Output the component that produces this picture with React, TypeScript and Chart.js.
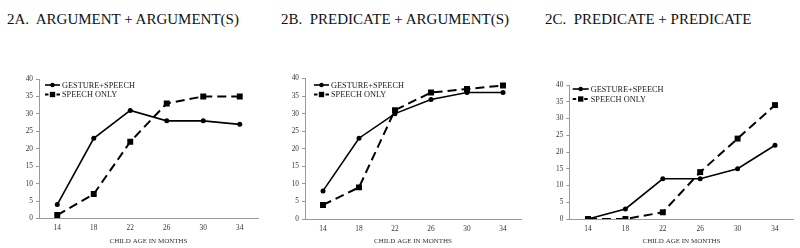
import React, { useEffect, useRef } from 'react';
import { Chart, registerables } from 'chart.js';
Chart.register(...registerables);

const ageLabels = ['14', '18', '22', '26', '30', '34'];
const seriesNames = ['GESTURE+SPEECH', 'SPEECH ONLY'];
const argArgGesture = [4, 23, 31, 28, 28, 27];
const argArgSpeech = [1, 7, 22, 33, 35, 35];
const predArgGesture = [8, 23, 30, 34, 36, 36];
const predArgSpeech = [4, 9, 31, 36, 37, 38];
const predPredGesture = [0, 3, 12, 12, 15, 22];
const predPredSpeech = [0, 0, 2, 14, 24, 34];
const panelTitles = ['2A.  ARGUMENT + ARGUMENT(S)', '2B.  PREDICATE + ARGUMENT(S)', '2C.  PREDICATE + PREDICATE'];
const xAxisTitle = 'CHILD AGE IN MONTHS';
const yMin = 0;
const yMax = 40;
const yStep = 5;

const SERIF = '"Liberation Serif", "Times New Roman", serif';

const lineLegend = {
  id: 'lineLegend',
  afterDraw(chart: any, _args: any, opts: any) {
    const { ctx, chartArea } = chart;
    const x0 = chartArea.left + opts.dx;
    chart.data.datasets.forEach((ds: any, i: number) => {
      const y = chartArea.top + opts.dy + i * opts.rowGap;
      ctx.save();
      ctx.strokeStyle = ds.borderColor;
      ctx.lineWidth = ds.borderWidth;
      ctx.setLineDash(ds.legendDash || []);
      ctx.beginPath();
      ctx.moveTo(x0, y);
      ctx.lineTo(x0 + opts.lineLen, y);
      ctx.stroke();
      ctx.setLineDash([]);
      const mx = x0 + opts.lineLen / 2;
      ctx.fillStyle = ds.pointBackgroundColor;
      if (ds.pointStyle === 'rect') {
        const s = ds.pointRadius * Math.SQRT1_2 * 0.9;
        ctx.fillRect(mx - s, y - s, 2 * s, 2 * s);
      } else {
        ctx.beginPath();
        ctx.arc(mx, y, ds.pointRadius * 0.9, 0, Math.PI * 2);
        ctx.fill();
      }
      ctx.fillStyle = opts.color;
      ctx.font = opts.font;
      ctx.textBaseline = 'middle';
      ctx.textAlign = 'left';
      ctx.fillText(ds.label, x0 + opts.lineLen + opts.textGap, y + 0.5);
      ctx.restore();
    });
  },
};

type PanelProps = {
  left: number;
  width: number;
  title: string;
  titleLeft: number;
  gesture: number[];
  speech: number[];
  padTop: number;
  padRight: number;
  yWidth: number;
  xHeight: number;
  legend: { dx: number; dy: number; rowGap: number; lineLen: number; textGap: number };
};

function Panel(p: PanelProps) {
  const ref = useRef<HTMLCanvasElement | null>(null);
  useEffect(() => {
    if (!ref.current) return;
    const chart = new Chart(ref.current, {
      type: 'line',
      data: {
        labels: ageLabels,
        datasets: [
          {
            label: seriesNames[0],
            data: p.gesture,
            borderColor: '#000',
            backgroundColor: '#000',
            borderWidth: 1.6,
            pointStyle: 'circle',
            pointRadius: 2.5,
            pointBackgroundColor: '#000',
            pointBorderWidth: 0,
            tension: 0,
          } as any,
          {
            label: seriesNames[1],
            data: p.speech,
            borderColor: '#000',
            backgroundColor: '#000',
            borderWidth: 2,
            borderDash: [9, 5],
            legendDash: [3.5, 8],
            pointStyle: 'rect',
            pointRadius: 4.2,
            pointBackgroundColor: '#000',
            pointBorderWidth: 0,
            tension: 0,
          } as any,
        ],
      },
      options: {
        animation: false,
        responsive: false,
        maintainAspectRatio: false,
        layout: { padding: { left: 0, right: p.padRight, top: p.padTop, bottom: 0 } },
        plugins: {
          legend: { display: false },
          tooltip: { enabled: false },
          title: { display: false },
          lineLegend: { ...p.legend, color: '#222', font: `8.3px ${SERIF}` },
        } as any,
        scales: {
          x: {
            type: 'category',
            offset: true,
            grid: { display: false, drawTicks: false },
            border: { display: true, color: '#9a9a9a', width: 1 },
            ticks: { color: '#333', font: { family: SERIF, size: 7.3 }, padding: 5.5, maxRotation: 0 },
            title: {
              display: true,
              text: xAxisTitle,
              color: '#333',
              font: { family: SERIF, size: 7 },
              padding: { top: 0, bottom: 3 },
            },
            afterFit: (s: any) => {
              s.height = p.xHeight;
            },
          },
          y: {
            min: yMin,
            max: yMax,
            grid: { display: true, drawOnChartArea: false, drawTicks: true, tickLength: 3, color: '#9a9a9a' },
            border: { display: true, color: '#9a9a9a', width: 1 },
            ticks: { stepSize: yStep, color: '#333', font: { family: SERIF, size: 7.3 }, padding: 3 },
            afterFit: (s: any) => {
              s.width = p.yWidth;
            },
          },
        } as any,
      },
      plugins: [lineLegend as any],
    });
    return () => chart.destroy();
  }, []);
  return (
    <>
      <div
        style={{
          position: 'absolute',
          left: p.titleLeft,
          top: 10,
          fontFamily: SERIF,
          fontSize: 15,
          lineHeight: '18px',
          whiteSpace: 'pre',
          color: '#111',
        }}
      >
        {p.title}
      </div>
      <canvas
        ref={ref}
        width={p.width}
        height={248}
        style={{ position: 'absolute', left: p.left, top: 0, width: p.width, height: 248 }}
      />
    </>
  );
}

export default function App() {
  useEffect(() => {
    document.body.style.margin = '0';
  }, []);
  return (
    <div style={{ position: 'relative', width: 800, height: 248, background: '#fff', overflow: 'hidden' }}>
      <Panel
        left={0}
        width={265}
        title={panelTitles[0]}
        titleLeft={7}
        gesture={argArgGesture}
        speech={argArgSpeech}
        padTop={79}
        padRight={7}
        yWidth={39}
        xHeight={29.5}
        legend={{ dx: 6, dy: 6, rowGap: 9.5, lineLen: 15, textGap: 2 }}
      />
      <Panel
        left={265}
        width={265}
        title={panelTitles[1]}
        titleLeft={281}
        gesture={predArgGesture}
        speech={predArgSpeech}
        padTop={78.5}
        padRight={9}
        yWidth={40}
        xHeight={29}
        legend={{ dx: 9, dy: 6.5, rowGap: 9.5, lineLen: 15, textGap: 2 }}
      />
      <Panel
        left={530}
        width={270}
        title={panelTitles[2]}
        titleLeft={545}
        gesture={predPredGesture}
        speech={predPredSpeech}
        padTop={85}
        padRight={6.3}
        yWidth={39.3}
        xHeight={29}
        legend={{ dx: 3.4, dy: 4, rowGap: 10, lineLen: 16, textGap: 2 }}
      />
    </div>
  );
}
